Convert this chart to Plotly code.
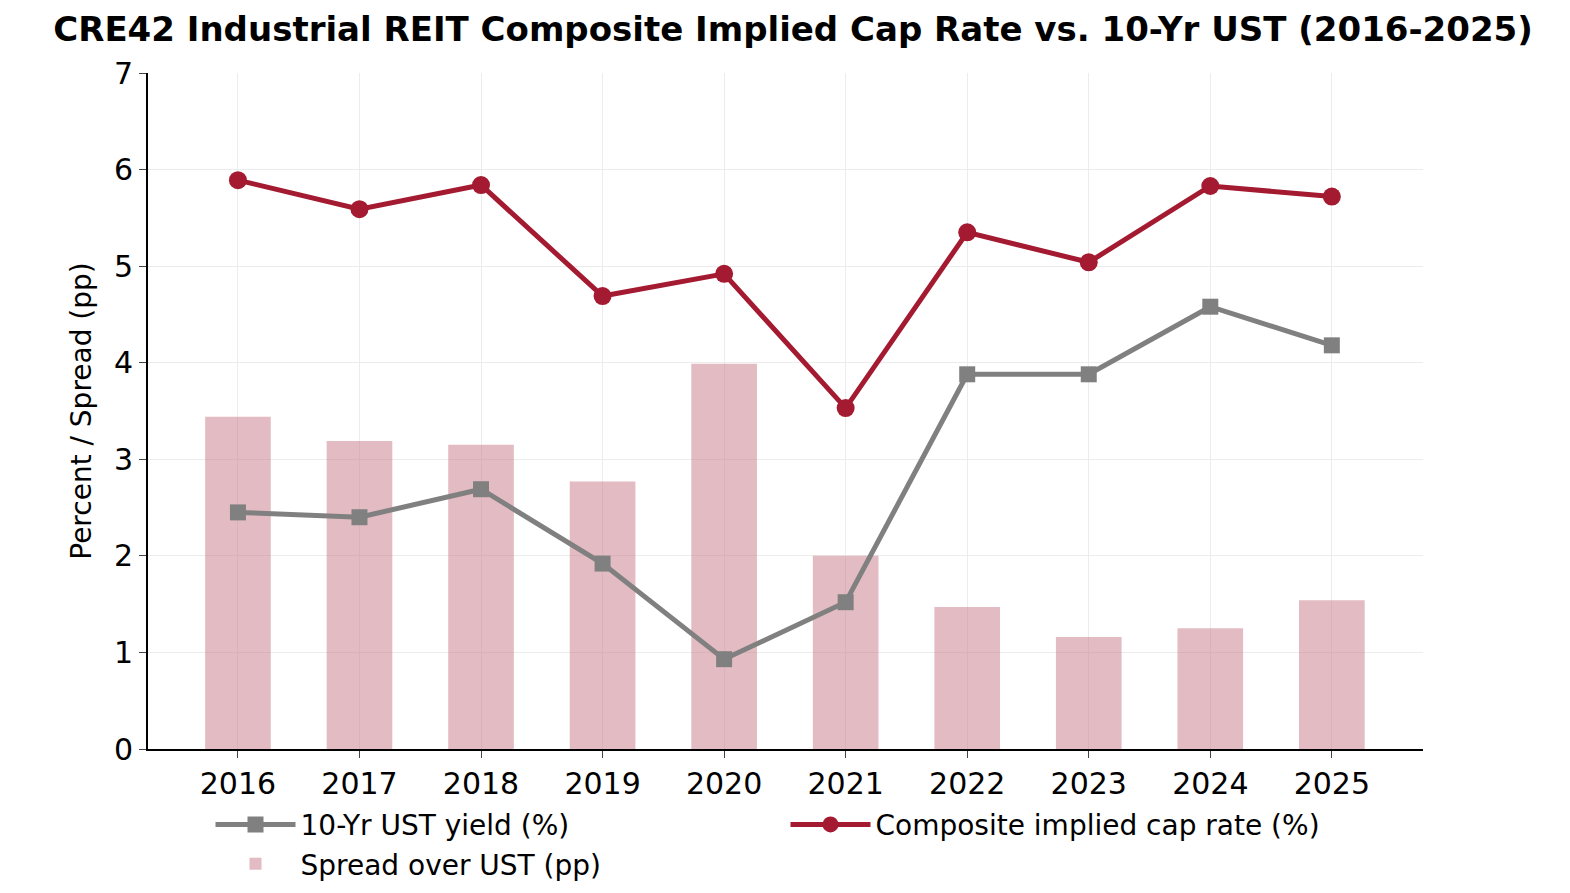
import plotly.graph_objects as go

years = ["2016", "2017", "2018", "2019", "2020", "2021", "2022", "2023", "2024", "2025"]
cap_rate = [5.89, 5.59, 5.84, 4.69, 4.92, 3.53, 5.35, 5.04, 5.83, 5.72]
ust_yield = [2.45, 2.40, 2.69, 1.92, 0.93, 1.52, 3.88, 3.88, 4.58, 4.18]
spread = [3.44, 3.19, 3.15, 2.77, 3.99, 2.00, 1.47, 1.16, 1.25, 1.54]

fig = go.Figure()
fig.add_trace(go.Scatter(x=years, y=cap_rate, name="Composite implied cap rate (%)",
                         mode="lines+markers", line=dict(color="#a31a31", width=5),
                         marker=dict(symbol="circle", size=18, color="#a31a31")))
fig.add_trace(go.Scatter(x=years, y=ust_yield, name="10-Yr UST yield (%)",
                         mode="lines+markers", line=dict(color="#808080", width=5),
                         marker=dict(symbol="square", size=16, color="#808080")))
fig.add_trace(go.Bar(x=years, y=spread, name="Spread over UST (pp)", width=0.54,
                     marker=dict(color="rgba(200,120,135,0.5)", line=dict(width=0))))
# bars drawn under lines
fig.data = (fig.data[2], fig.data[0], fig.data[1])

fig.update_layout(
    width=1570, height=893,
    paper_bgcolor="white", plot_bgcolor="white",
    font=dict(family="DejaVu Sans", size=28, color="black"),
    title=dict(text="<b>CRE42 Industrial REIT Composite Implied Cap Rate vs. 10-Yr UST (2016-2025)</b>",
               x=0.5, xanchor="center", y=0.99, yanchor="top", font=dict(size=34)),
    margin=dict(l=140, r=155, t=65, b=137),
    showlegend=True,
    legend=dict(orientation="h", x=0.5, xanchor="center", y=-0.075, yanchor="top",
                traceorder="reversed", font=dict(size=28), entrywidth=480,
                itemwidth=80),
    xaxis=dict(type="category", range=[-0.74, 9.75], showgrid=True, gridcolor="#ececec",
               showline=True, linecolor="black", linewidth=2, ticks="outside",
               ticklen=7, tickfont=dict(size=30)),
    yaxis=dict(range=[0, 7], dtick=1, showgrid=True, gridcolor="#ececec",
               showline=True, linecolor="black", linewidth=2, ticks="outside",
               ticklen=7, tickfont=dict(size=30), zeroline=False,
               title=dict(text="Percent / Spread (pp)", font=dict(size=28), standoff=14)),
    barmode="overlay",
)
fig.write_html("out.html")
